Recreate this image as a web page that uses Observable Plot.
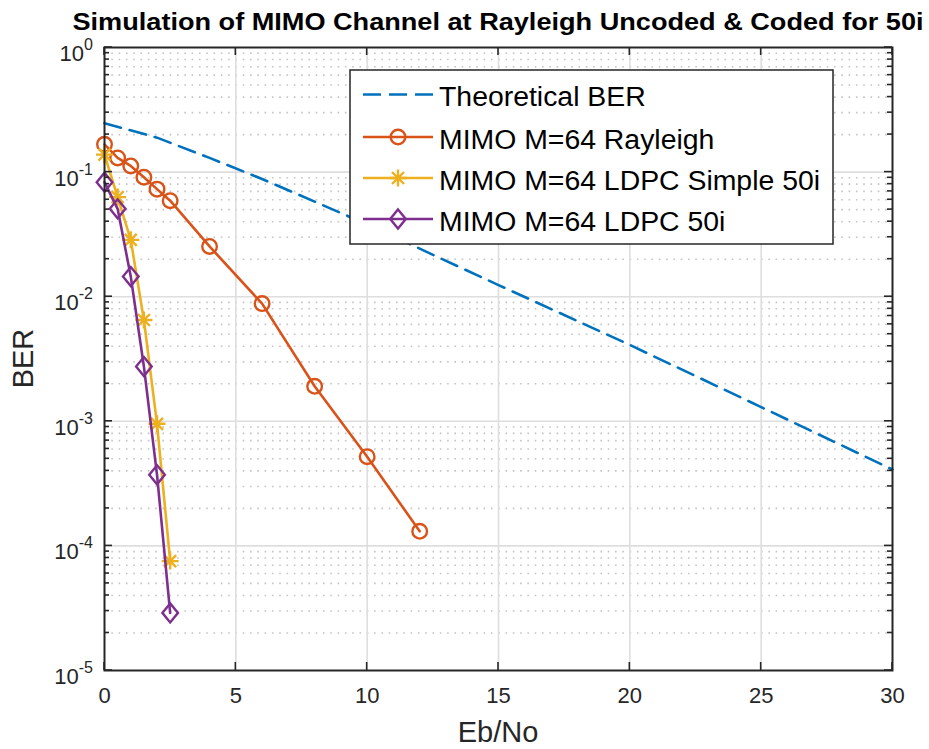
<!DOCTYPE html>
<html><head><meta charset="utf-8">
<script src="https://cdn.jsdelivr.net/npm/d3@7"></script>
<script src="https://cdn.jsdelivr.net/npm/@observablehq/plot@0.6"></script>
<style>html,body{margin:0;padding:0;background:#fff;}</style>
</head><body><div id="chart"></div>
<script>
// ---- data ----
const ebnoTheory = [0, 2, 4, 6, 8, 10, 12, 15, 20, 25, 30];
const berTheory  = [0.247, 0.189, 0.130, 0.088, 0.058, 0.038, 0.0243, 0.0124, 0.0041, 0.0013, 0.00041];
const ebnoRayleigh = [0, 0.5, 1, 1.5, 2, 2.5, 4, 6, 8, 10, 12];
const berRayleigh  = [0.167, 0.130, 0.112, 0.091, 0.073, 0.059, 0.0253, 0.0088, 0.00191, 0.00052, 0.000131];
const ebnoSimple = [0, 0.5, 1, 1.5, 2, 2.5];
const berSimple  = [0.138, 0.063, 0.0286, 0.0065, 0.000955, 0.0000755];
const ebnoLdpc = [0, 0.5, 1, 1.5, 2, 2.5];
const berLdpc  = [0.083, 0.0507, 0.0145, 0.00275, 0.000372, 0.000029];
const seriesNames = ["Theoretical BER", "MIMO M=64 Rayleigh", "MIMO M=64 LDPC Simple 50i", "MIMO M=64 LDPC 50i"];
const seriesColors = ["#0072BD", "#D95319", "#EDB120", "#7E2F8E"];
const xTicks = [0, 5, 10, 15, 20, 25, 30];
const yExponents = [0, -1, -2, -3, -4, -5];
const titleText = "Simulation of MIMO Channel at Rayleigh Uncoded & Coded for 50i";
const xLabelText = "Eb/No";
const yLabelText = "BER";

const zip = (xs, ys) => xs.map((x, i) => ({x, y: ys[i]}));
const theory = zip(ebnoTheory, berTheory);
const rayleigh = zip(ebnoRayleigh, berRayleigh);
const simple = zip(ebnoSimple, berSimple);
const ldpc = zip(ebnoLdpc, berLdpc);

const majorY = yExponents.map(e => Math.pow(10, e));
const minorY = [];
for (let e = -5; e < 0; e++) for (let k = 2; k <= 9; k++) minorY.push(k * Math.pow(10, e));

// custom symbols
const diamondSym = {draw(ctx, size) {
  const r = Math.sqrt(size / Math.PI);
  ctx.moveTo(0, -r * 1.22); ctx.lineTo(r, 0); ctx.lineTo(0, r * 1.22); ctx.lineTo(-r, 0); ctx.closePath();
}};
const starSym = {draw(ctx, size) {
  const r = Math.sqrt(size / Math.PI), d = r * Math.SQRT1_2;
  ctx.moveTo(-r, 0); ctx.lineTo(r, 0); ctx.moveTo(0, -r); ctx.lineTo(0, r);
  ctx.moveTo(-d, -d); ctx.lineTo(d, d); ctx.moveTo(-d, d); ctx.lineTo(d, -d);
}};

const FONT = "Liberation Sans, Arial, Helvetica, sans-serif";
const textColor = "#262626";

const plot = Plot.plot({
  width: 929, height: 749,
  marginLeft: 104, marginRight: 37, marginTop: 47, marginBottom: 79,
  style: {fontFamily: FONT, fontSize: "22px", color: textColor, background: "#fff"},
  x: {domain: [0, 30], axis: null},
  y: {type: "log", domain: [1e-5, 1], axis: null},
  marks: [
    Plot.ruleY(minorY, {stroke: "#c4c4c4", strokeWidth: 1.6, strokeDasharray: "1.6,5.7"}),
    Plot.ruleY(majorY.slice(1, -1), {stroke: "#dedede", strokeWidth: 1.6}),
    Plot.ruleX(xTicks.slice(1, -1), {stroke: "#dedede", strokeWidth: 1.6}),
    Plot.axisX({ticks: xTicks, tickSize: 0, tickPadding: 17, fontSize: 22, label: null, tickFormat: d => String(d)}),
    Plot.line(theory, {x: "x", y: "y", stroke: seriesColors[0], strokeWidth: 2.6, strokeDasharray: "17,9"}),
    Plot.line(rayleigh, {x: "x", y: "y", stroke: seriesColors[1], strokeWidth: 2.6}),
    Plot.dot(rayleigh, {x: "x", y: "y", stroke: seriesColors[1], r: 7.3, strokeWidth: 2.4, fill: "none"}),
    Plot.line(simple, {x: "x", y: "y", stroke: seriesColors[2], strokeWidth: 2.6}),
    Plot.dot(simple, {x: "x", y: "y", stroke: seriesColors[2], symbol: starSym, r: 8.5, strokeWidth: 2.4, fill: "none"}),
    Plot.line(ldpc, {x: "x", y: "y", stroke: seriesColors[3], strokeWidth: 2.6}),
    Plot.dot(ldpc, {x: "x", y: "y", stroke: seriesColors[3], symbol: diamondSym, r: 7.8, strokeWidth: 2.4, fill: "none"}),
    Plot.frame({stroke: textColor, strokeWidth: 2})
  ]
});
document.getElementById("chart").appendChild(plot);

const svg = d3.select(plot);
const sx = v => plot.scale("x").apply(v);
const sy = v => plot.scale("y").apply(v);
const x0 = sx(0), x1 = sx(30), y0 = sy(1), y1 = sy(1e-5);

// ticks (inside)
const tg = svg.append("g").attr("stroke", textColor).attr("stroke-width", 1.6);
xTicks.forEach(t => {
  tg.append("line").attr("x1", sx(t)).attr("x2", sx(t)).attr("y1", y1).attr("y2", y1 - 8);
  tg.append("line").attr("x1", sx(t)).attr("x2", sx(t)).attr("y1", y0).attr("y2", y0 + 8);
});
majorY.forEach(v => {
  tg.append("line").attr("x1", x0).attr("x2", x0 + 8).attr("y1", sy(v)).attr("y2", sy(v));
  tg.append("line").attr("x1", x1).attr("x2", x1 - 8).attr("y1", sy(v)).attr("y2", sy(v));
});
minorY.forEach(v => {
  tg.append("line").attr("x1", x0).attr("x2", x0 + 5).attr("y1", sy(v)).attr("y2", sy(v));
  tg.append("line").attr("x1", x1).attr("x2", x1 - 5).attr("y1", sy(v)).attr("y2", sy(v));
});

// y tick labels with superscript
yExponents.forEach(e => {
  const y = sy(Math.pow(10, e));
  const t = svg.append("text").attr("x", x0 - 11).attr("y", y + 14)
    .attr("text-anchor", "end").attr("fill", textColor)
    .style("font-family", FONT).style("font-size", "22px");
  t.append("tspan").text("10");
  t.append("tspan").attr("dy", -11).style("font-size", "16px").text(String(e));
});

// title
svg.append("text").attr("x", (x0 + x1) / 2).attr("y", 30).attr("text-anchor", "middle")
  .attr("fill", "#000").style("font-family", FONT).style("font-weight", "bold").style("font-size", "24px")
  .attr("textLength", 851).attr("lengthAdjust", "spacingAndGlyphs").text(titleText);

// axis labels
svg.append("text").attr("x", (x0 + x1) / 2).attr("y", 742).attr("text-anchor", "middle")
  .attr("fill", textColor).style("font-family", FONT).style("font-size", "29px").text(xLabelText);
svg.append("text").attr("transform", `translate(33,${(y0 + y1) / 2}) rotate(-90)`).attr("text-anchor", "middle")
  .attr("fill", textColor).style("font-family", FONT).style("font-size", "29px").text(yLabelText);

// legend
const lg = svg.append("g");
lg.append("rect").attr("x", 350).attr("y", 70).attr("width", 483).attr("height", 174)
  .attr("fill", "#fff").attr("stroke", textColor).attr("stroke-width", 1.5);
const rowY = [94.5, 137, 178, 219];
const symbols = [null, "circle", starSym, diamondSym];
seriesNames.forEach((name, i) => {
  const y = rowY[i];
  const ln = lg.append("line").attr("x1", 363).attr("x2", 433).attr("y1", y).attr("y2", y)
    .attr("stroke", seriesColors[i]).attr("stroke-width", 2.6);
  if (i === 0) ln.attr("stroke-dasharray", "18,8");
  if (symbols[i] === "circle") {
    lg.append("circle").attr("cx", 398).attr("cy", y).attr("r", 7.3).attr("fill", "none")
      .attr("stroke", seriesColors[i]).attr("stroke-width", 2.4);
  } else if (symbols[i]) {
    const p = d3.path(); const rr = i === 2 ? 8.5 : 7.8;
    symbols[i].draw(p, rr * rr * Math.PI);
    lg.append("path").attr("d", p.toString()).attr("transform", `translate(398,${y})`)
      .attr("fill", "none").attr("stroke", seriesColors[i]).attr("stroke-width", 2.4);
  }
  lg.append("text").attr("x", 439).attr("y", y + 11.5).attr("text-anchor", "start").attr("fill", "#000")
    .style("font-family", FONT).style("font-size", "28.4px").text(name);
});
</script>
</body></html>
